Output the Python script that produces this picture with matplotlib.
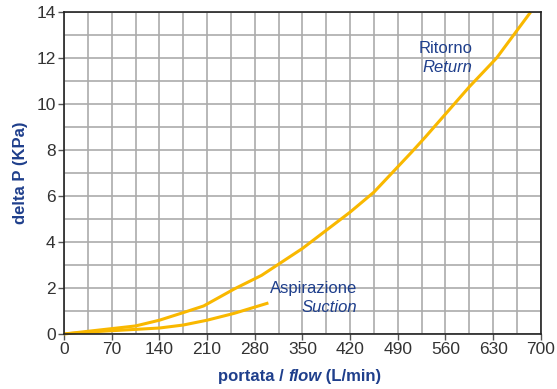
import matplotlib
matplotlib.use('Agg')
import matplotlib.pyplot as plt

plt.rcParams['font.family'] = ['Liberation Sans', 'DejaVu Sans']

# pressure drop curves
return_flow = [0, 105, 140, 175, 205, 250, 290, 350, 420, 455, 510, 530, 595, 635, 685]
return_dp = [0, 0.35, 0.6, 0.93, 1.22, 1.96, 2.55, 3.72, 5.3, 6.17, 7.9, 8.55, 10.75, 12.0, 14.0]
suction_flow = [0, 45, 140, 175, 210, 250, 300]
suction_dp = [0, 0.1, 0.26, 0.39, 0.6, 0.9, 1.35]

x_ticks = [0, 70, 140, 210, 280, 350, 420, 490, 560, 630, 700]
y_ticks = [0, 2, 4, 6, 8, 10, 12, 14]

yellow = '#F9B800'
blue = '#1F3F8C'

fig = plt.figure(figsize=(5.57, 3.89), dpi=100)
ax = fig.add_axes([0.115, 0.1414, 0.856, 0.8276])

ax.set_xlim(0, 700)
ax.set_ylim(0, 14)
ax.set_xticks(x_ticks)
ax.set_yticks(y_ticks)
ax.set_xticks(range(35, 700, 70), minor=True)
ax.set_yticks(range(1, 14, 2), minor=True)
ax.grid(True, which='both', color='#ababab', lw=1.2)
ax.set_axisbelow(True)
ax.tick_params(which='minor', length=0)
ax.tick_params(which='major', length=4, width=1, color='#555555',
               labelsize=12.5, labelcolor='#333333', pad=2)
for s in ax.spines.values():
    s.set_color('#222222')
    s.set_linewidth(1.2)

ax.plot(return_flow, return_dp, color=yellow, lw=2.2, solid_capstyle='butt', clip_on=False)
ax.plot(suction_flow, suction_dp, color=yellow, lw=2.2, solid_capstyle='butt')

ax.text(600, 12.43, 'Ritorno', color=blue, fontsize=12, ha='right', va='center')
ax.text(600, 11.6, 'Return', color=blue, fontsize=12, ha='right', va='center', style='italic')
ax.text(431, 2.0, 'Aspirazione', color=blue, fontsize=12, ha='right', va='center')
ax.text(431, 1.17, 'Suction', color=blue, fontsize=12, ha='right', va='center', style='italic')

fig.text(0.036, 0.557, 'delta P (KPa)', color=blue, fontsize=12, fontweight='bold',
         rotation=90, ha='center', va='center')

# x label with italic "flow" in the middle
parts = [('portata / ', 'normal'), ('flow', 'italic'), (' (L/min)', 'normal')]
fig.canvas.draw()
renderer = fig.canvas.get_renderer()
pieces = []
widths = []
for txt, st in parts:
    t = fig.text(0, 0.031, txt, color=blue, fontsize=12, fontweight='bold', style=st,
                 ha='left', va='center')
    widths.append(t.get_window_extent(renderer).width)
    pieces.append(t)
total = sum(widths)
x0 = 0.538 * fig.bbox.width - total / 2
for t, w in zip(pieces, widths):
    t.set_x(x0 / fig.bbox.width)
    x0 += w

fig.savefig('out.png', dpi=100)
